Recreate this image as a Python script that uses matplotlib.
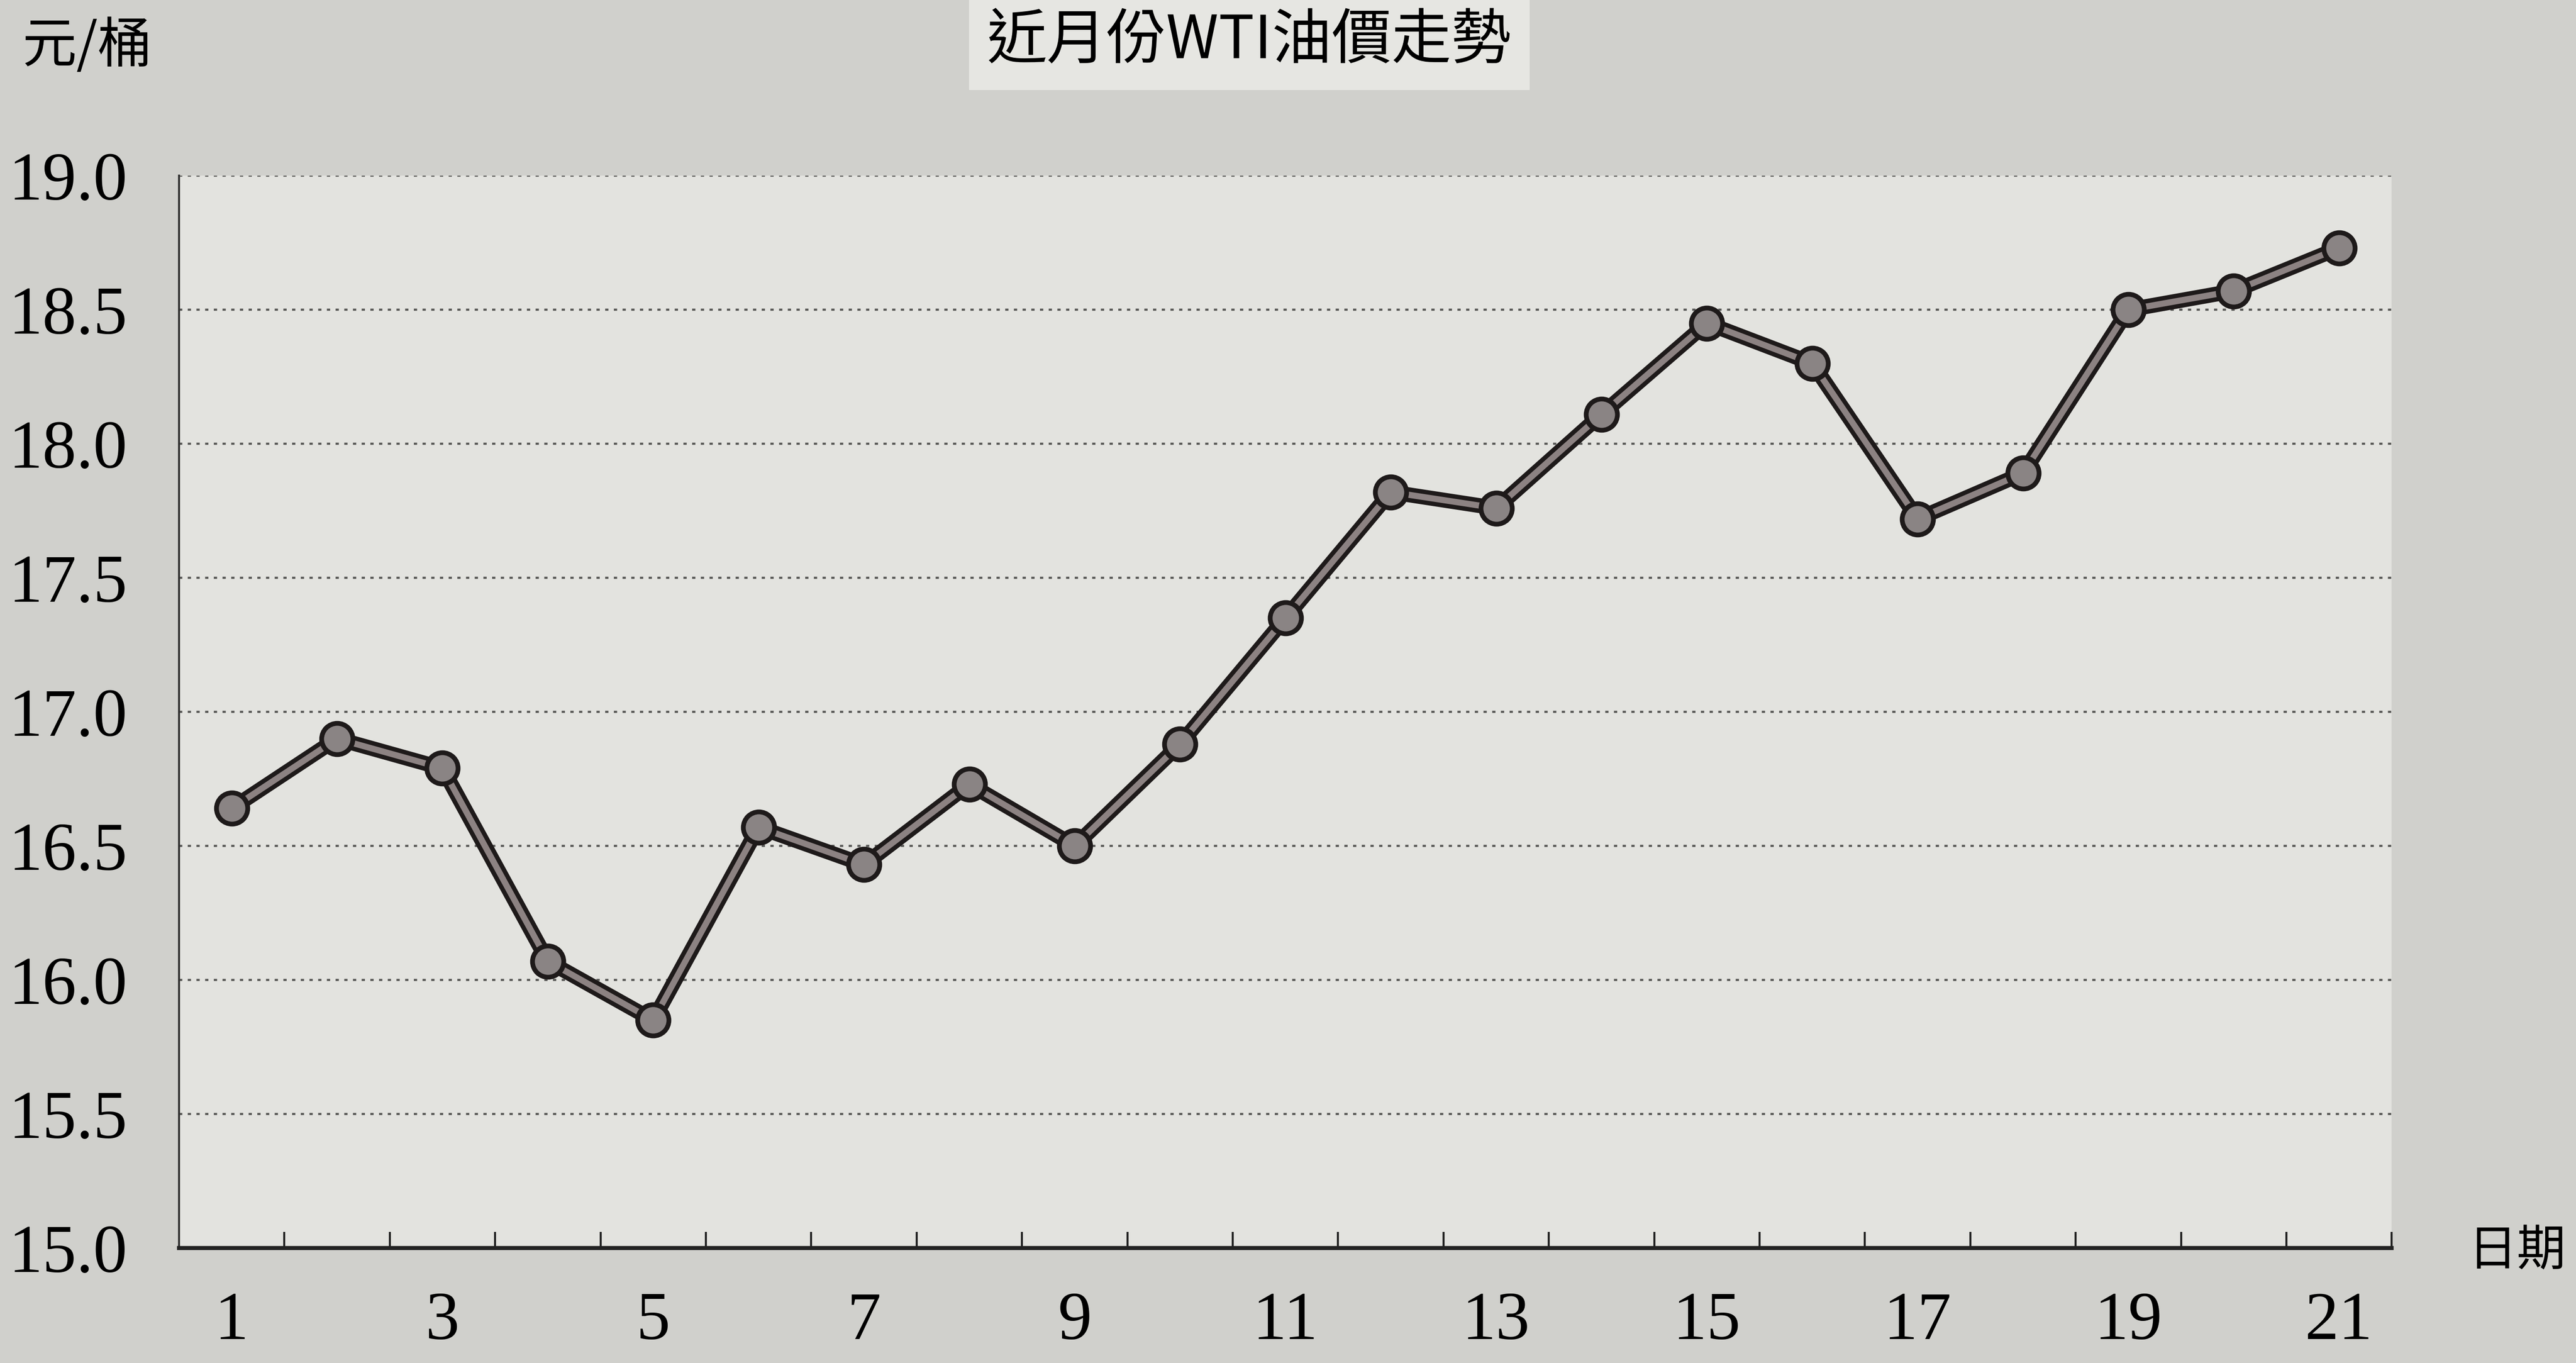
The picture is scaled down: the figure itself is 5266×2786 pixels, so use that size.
import matplotlib.pyplot as plt
from matplotlib.ticker import FixedLocator

# WTI near-month price
days = list(range(1, 22))
prices = [16.64, 16.90, 16.79, 16.07, 15.85, 16.57, 16.43, 16.73, 16.50, 16.88,
          17.35, 17.82, 17.76, 18.11, 18.45, 18.30, 17.72, 17.89, 18.50, 18.57, 18.73]
y_ticks = [15.0, 15.5, 16.0, 16.5, 17.0, 17.5, 18.0, 18.5, 19.0]
x_labels = [1, 3, 5, 7, 9, 11, 13, 15, 17, 19, 21]

title = '近月份WTI油價走勢'
y_unit = '元/桶'
x_name = '日期'

cjk = ['Noto Sans CJK TC', 'DejaVu Sans']
serif = ['Liberation Serif', 'DejaVu Serif']

fig = plt.figure(figsize=(26.33, 13.93), dpi=200, facecolor='#d0d0cc')
ax = fig.add_axes([0.0695, 0.0843, 0.859, 0.7868])
ax.set_facecolor('#e3e3df')

# gridlines (dotted, like the printed chart)
for v in y_ticks[1:]:
    ax.axhline(v, color='#5a5a58', lw=1.6, ls=(0, (1.5, 2.5)), zorder=1)

# double-stroke line: dark outline with a grey core
ax.plot(days, prices, color='#1e1a1a', lw=11, solid_capstyle='round', zorder=3)
ax.plot(days, prices, color='#8c8282', lw=4.5, solid_capstyle='round', zorder=4)
ax.plot(days, prices, ls='none', marker='o', ms=23, mfc='#8a8484',
        mec='#1e1a1a', mew=3.5, zorder=5)

ax.set_xlim(0.5, 21.5)
ax.set_ylim(15.0, 19.0)

ax.set_yticks(y_ticks)
ax.set_yticklabels([f'{v:.1f}' for v in y_ticks], family=serif, fontsize=50)
ax.tick_params(axis='y', length=0, pad=38)

# tick marks between categories, labels under odd days
ax.xaxis.set_major_locator(FixedLocator([d + 0.5 for d in days]))
ax.xaxis.set_minor_locator(FixedLocator(x_labels))
ax.set_xticklabels([], minor=False)
ax.set_xticklabels([str(d) for d in x_labels], minor=True, family=serif, fontsize=50)
ax.tick_params(axis='x', which='major', direction='in', length=12, width=1.5, color='#222222')
ax.tick_params(axis='x', which='minor', length=0, pad=32)

for s in ['top', 'right']:
    ax.spines[s].set_visible(False)
ax.spines['left'].set_color('#333333')
ax.spines['left'].set_linewidth(1.5)
ax.spines['bottom'].set_color('#222222')
ax.spines['bottom'].set_linewidth(3)

fig.text(0.034, 0.966, y_unit, family=cjk, fontsize=40, ha='center', va='center')
fig.text(0.977, 0.082, x_name, family=cjk, fontsize=36, ha='center', va='center')
fig.text(0.485, 0.992, title, family=cjk, fontsize=44, ha='center', va='top',
         bbox=dict(boxstyle='square,pad=0.3', fc='#e6e6e2', ec='none'))

fig.savefig('out.png', dpi=200, facecolor=fig.get_facecolor())
